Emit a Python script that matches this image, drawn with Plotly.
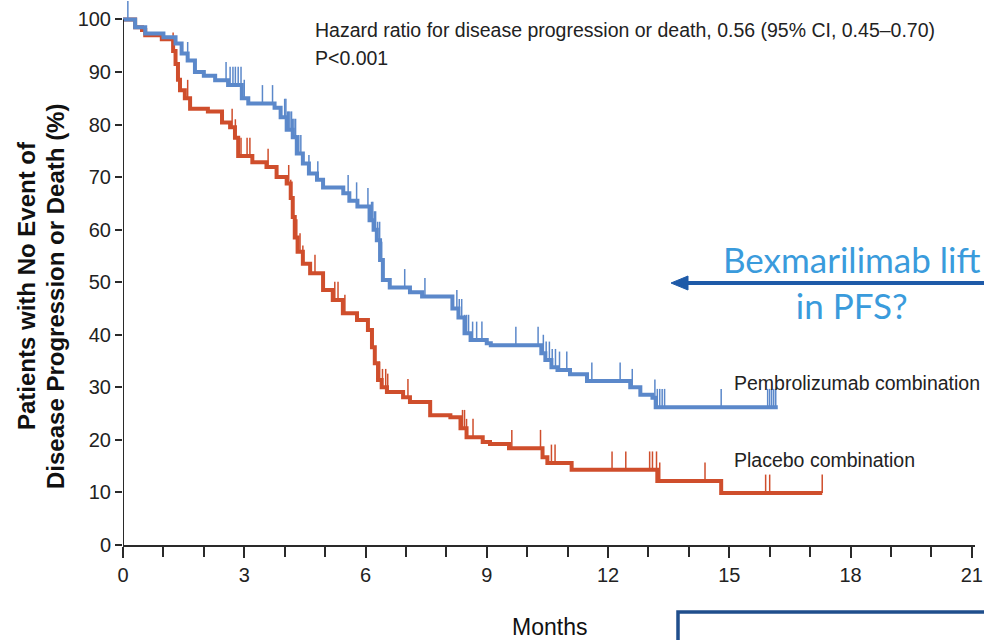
import bisect
import plotly.graph_objects as go

# ---------------- data ----------------
months_ticks = [0, 3, 6, 9, 12, 15, 18, 21]
pct_ticks = [0, 10, 20, 30, 40, 50, 60, 70, 80, 90, 100]

pembro_t = [0, 0.3, 0.55, 1.0, 1.3, 1.45, 1.6, 1.78, 2.0, 2.28,
            2.6, 2.94, 3.1, 3.75, 3.9, 4.05, 4.2, 4.3, 4.45, 4.6,
            4.8, 4.95, 5.45, 5.6, 5.8, 6.1, 6.2, 6.28, 6.36, 6.43,
            6.6, 7.1, 7.4, 8.15, 8.3, 8.45, 8.6, 9.0, 9.1, 10.35,
            10.45, 10.6, 10.75, 11.06, 11.48, 12.55, 12.8, 13.1, 13.18, 16.2]
pembro_s = [100, 98.5, 97.3, 96.6, 95.4, 93.5, 92.2, 90, 89.3, 88.4,
            87.5, 85, 84, 83.2, 81.4, 79, 77.6, 74.5, 72.6, 70.7,
            69.5, 68, 66.9, 65.5, 64.4, 61.8, 60, 58, 54.2, 50.4,
            49, 48.1, 47.3, 45, 43.3, 40.3, 39, 38.4, 38, 36.5,
            35.2, 33.8, 33.3, 32.5, 31.2, 30, 28.6, 28, 26.2, 26.2]
pembro_cens = [0.12, 1.6, 2.55, 2.65, 2.72, 2.78, 2.85, 2.92, 3.0, 3.45, 3.7,
               4.0, 4.03, 4.07, 4.1, 4.13, 4.17, 4.2, 4.23, 4.27, 4.3, 4.35, 4.4,
               4.6, 4.82, 5.57, 5.78, 6.06, 6.15, 6.18, 6.22, 6.25, 6.3, 6.35,
               6.4, 6.97, 7.47, 8.26, 8.32, 8.38, 8.45, 8.5, 8.55, 8.65, 8.75,
               8.88, 9.72, 10.27, 10.4, 10.47, 10.55, 10.62, 10.7, 10.8, 10.98,
               11.6, 12.3, 12.6, 13.16, 13.22, 13.28, 13.34, 13.4, 14.8, 15.95,
               16.0, 16.05, 16.1, 16.15]

placebo_t = [0, 0.3, 0.47, 0.55, 0.96, 1.24, 1.3, 1.36, 1.41, 1.53,
             1.66, 2.1, 2.45, 2.65, 2.77, 2.85, 3.2, 3.55, 3.8, 4.05,
             4.15, 4.2, 4.25, 4.32, 4.45, 4.63, 4.95, 5.19, 5.44, 5.79,
             6.06, 6.16, 6.23, 6.31, 6.4, 6.53, 6.93, 7.1, 7.6, 8.1,
             8.35, 8.5, 8.9, 9.08, 9.55, 10.38, 10.5, 11.1, 13.22, 14.8, 17.3]
placebo_s = [100, 98.5, 98, 97, 96.2, 94, 91.5, 88.5, 86.5, 85,
             83, 82.5, 80.4, 79.5, 77.5, 74, 72.8, 71.9, 70, 68.8,
             66, 62.4, 58.5, 55.8, 53.5, 51.7, 48.5, 46.6, 44.1, 42.8,
             40.9, 37.6, 34.6, 31.4, 30, 29.1, 28.1, 27.2, 24.7, 24.3,
             22.2, 20.5, 19.6, 19.2, 18.4, 16.7, 15.6, 14.3, 12.2, 9.9, 9.9]
placebo_cens = [1.24, 1.6, 2.7, 2.78, 2.85, 2.92, 3.07, 3.14, 3.59, 4.1, 4.15,
                4.2, 4.25, 4.3, 4.38, 4.45, 4.75, 5.24, 5.32, 5.49, 6.16, 6.35,
                6.42, 6.5, 6.55, 7.05, 8.4, 8.45, 8.5, 8.66, 9.62, 10.33, 10.6,
                10.69, 12.1, 12.44, 13.03, 13.1, 13.2, 13.28, 14.4, 15.9, 16.0, 17.3]

BLUE = "#5B88CA"
RED = "#CF4E2C"
TICK_H = 3.5


def step_at(ts, ss, t):
    i = bisect.bisect_right(ts, t) - 1
    return ss[max(i, 0)]


def censor_xy(ts, ss, cens):
    xs, ys = [], []
    for c in cens:
        s = step_at(ts, ss, c)
        xs += [c, c, None]
        ys += [s, s + TICK_H, None]
    return xs, ys


fig = go.Figure()
for ts, ss, cens, col in [(placebo_t, placebo_s, placebo_cens, RED),
                          (pembro_t, pembro_s, pembro_cens, BLUE)]:
    fig.add_trace(go.Scatter(x=ts, y=ss, mode="lines", line=dict(color=col, width=4, shape="hv"),
                             hoverinfo="skip", showlegend=False))
    cx, cy = censor_xy(ts, ss, cens)
    fig.add_trace(go.Scatter(x=cx, y=cy, mode="lines", line=dict(color=col, width=1.5),
                             hoverinfo="skip", showlegend=False))

# ---------------- layout ----------------
L, R, T, B = 123, 975, 1, 545
W, H = 984, 640


def px(xp):
    return (xp - L) / (R - L)


def py(yp):
    return (B - yp) / (B - T)


AX = "#2a2a2a"
SANS = "Liberation Sans, Arial, sans-serif"

fig.update_layout(
    width=W, height=H,
    margin=dict(l=L, r=W - R, t=T, b=H - B, pad=0),
    plot_bgcolor="white", paper_bgcolor="white",
    xaxis=dict(range=[0, 21.08], tickvals=months_ticks, ticktext=[str(v) for v in months_ticks],
               showgrid=False, zeroline=False, showline=True, linecolor=AX, linewidth=2,
               ticks="outside", ticklen=11, tickwidth=1.5, tickcolor=AX,
               minor=dict(dtick=1, ticks="outside", ticklen=10, tickwidth=1.5, tickcolor=AX, showgrid=False),
               tickfont=dict(family=SANS, size=20, color="#222")),
    yaxis=dict(range=[0, 103.5], tickvals=pct_ticks, ticktext=[str(v) for v in pct_ticks],
               showgrid=False, zeroline=False, showline=False,
               ticks="outside", ticklen=7, tickwidth=1.5, tickcolor=AX,
               tickfont=dict(family=SANS, size=20, color="#222")),
)

shapes = [
    # y axis line from 0 to 100
    dict(type="line", xref="x", yref="y", x0=0, x1=0, y0=0, y1=100, line=dict(color=AX, width=2)),
    # arrow shaft
    dict(type="line", xref="paper", yref="paper", x0=px(684), x1=px(1000), y0=py(283), y1=py(283),
         line=dict(color="#1E5AA8", width=4)),
    # arrow head
    dict(type="path", xref="paper", yref="paper",
         path=f"M {px(671)} {py(283)} L {px(688)} {py(276)} L {px(688)} {py(290)} Z",
         fillcolor="#1E5AA8", line=dict(color="#1E5AA8", width=1)),
    # box at the bottom right
    dict(type="rect", xref="paper", yref="paper", x0=px(678), x1=px(1010), y0=py(612), y1=py(680),
         line=dict(color="#1F4E8C", width=3.5), fillcolor="rgba(0,0,0,0)"),
]
fig.update_layout(shapes=shapes)

ann = [
    dict(text="Hazard ratio for disease progression or death, 0.56 (95% CI, 0.45\u20130.70)",
         x=px(313), y=py(30), xanchor="left", yanchor="middle",
         font=dict(family=SANS, size=19.5, color="#222")),
    dict(text="P<0.001", x=px(313), y=py(58), xanchor="left", yanchor="middle",
         font=dict(family=SANS, size=19.5, color="#222")),
    dict(text="Pembrolizumab combination", x=px(732), y=py(383), xanchor="left", yanchor="middle",
         font=dict(family=SANS, size=19.5, color="#222")),
    dict(text="Placebo combination", x=px(732), y=py(460), xanchor="left", yanchor="middle",
         font=dict(family=SANS, size=19.5, color="#222")),
    dict(text="Months", x=px(549), y=py(627), xanchor="center", yanchor="middle",
         font=dict(family=SANS, size=23, color="#111")),
    dict(text="<b>Patients with No Event of</b>",
         x=px(26), y=py(286), xanchor="center", yanchor="middle", textangle=-90,
         font=dict(family=SANS, size=24, color="#111")),
    dict(text="<b>Disease Progression or Death (%)</b>",
         x=px(55), y=py(297), xanchor="center", yanchor="middle", textangle=-90,
         font=dict(family=SANS, size=24, color="#111")),
    dict(text="Bexmarilimab lift<br>in PFS?", x=px(851), y=py(282), xanchor="center", yanchor="middle",
         align="center", font=dict(family="Lato, Open Sans, sans-serif", size=35, color="#3A9BDC")),
]
for a in ann:
    a.update(xref="paper", yref="paper", showarrow=False)
fig.update_layout(annotations=ann)

fig.write_html("out.html")
